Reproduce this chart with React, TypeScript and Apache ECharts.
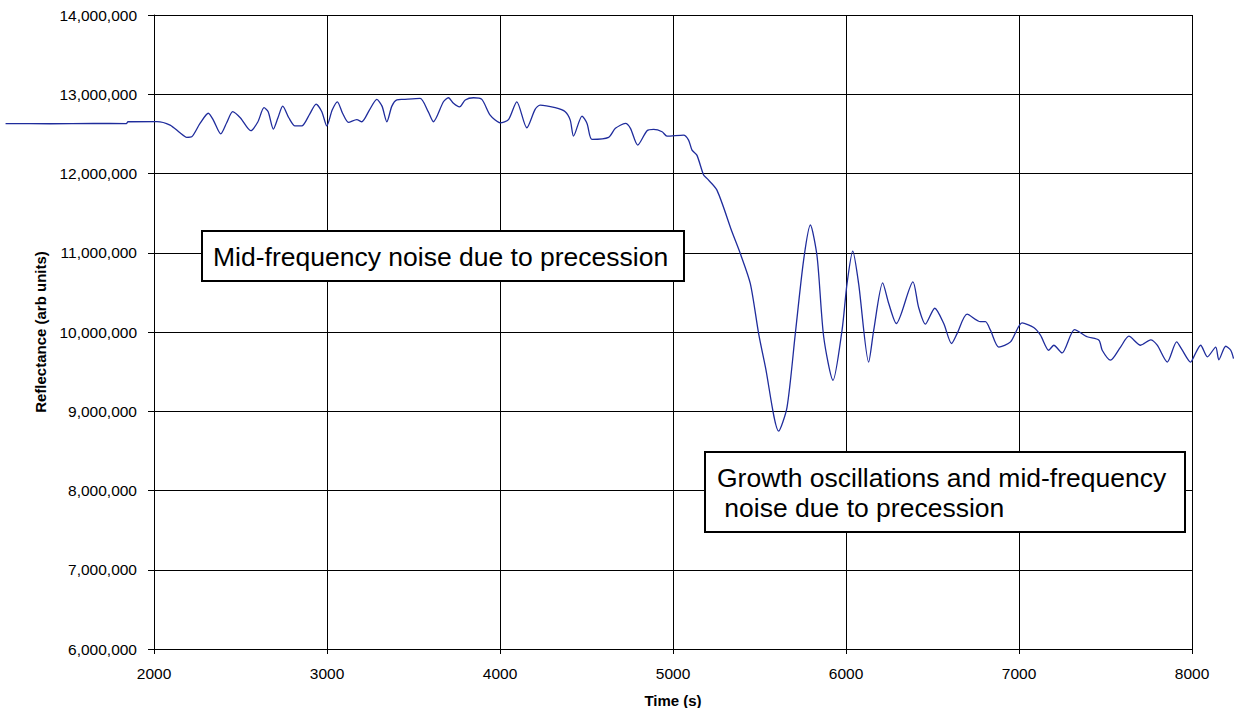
import React, { useEffect, useRef } from "react";
import * as echarts from "echarts";

// Time (s)
const times: number[] = [
  1142, 1400, 1650, 1840, 1850, 2017, 2093, 2150, 2189, 2218, 2266, 2314, 2343, 2386, 2420,
  2455, 2500, 2559, 2600, 2636, 2660, 2690, 2716, 2744, 2780, 2815, 2854, 2900, 2937, 2970,
  2999, 3030, 3060, 3090, 3124, 3172, 3201, 3245, 3288, 3318, 3346, 3375, 3404, 3440, 3538,
  3585, 3615, 3673, 3702, 3731, 3766, 3799, 3847, 3895, 3943, 4001, 4049, 4097, 4155, 4203,
  4232, 4319, 4377, 4406, 4425, 4474, 4503, 4532, 4628, 4667, 4725, 4754, 4796, 4850, 4888,
  4937, 4965, 5061, 5090, 5110, 5138, 5177, 5196, 5254, 5341, 5389, 5447, 5495, 5534, 5611,
  5659, 5707, 5755, 5794, 5833, 5871, 5925, 5977, 6006, 6039, 6073, 6131, 6160, 6212, 6247,
  6291, 6387, 6419, 6459, 6513, 6565, 6610, 6642, 6700, 6777, 6806, 6835, 6883, 6951, 7018,
  7085, 7124, 7172, 7201, 7249, 7321, 7394, 7462, 7481, 7529, 7587, 7635, 7703, 7761, 7799,
  7857, 7911, 7944, 7992, 8011, 8050, 8089, 8137, 8155, 8195, 8224, 8240,
];

// Reflectance (millions, arb units)
const reflectanceM: number[] = [
  12.630, 12.628, 12.632, 12.630, 12.653, 12.655, 12.611, 12.514, 12.456, 12.463, 12.632, 12.760, 12.674, 12.500, 12.640,
  12.780, 12.700, 12.540, 12.650, 12.830, 12.780, 12.560, 12.700, 12.850, 12.700, 12.600, 12.600, 12.750, 12.876, 12.780,
  12.600, 12.800, 12.905, 12.760, 12.645, 12.680, 12.653, 12.800, 12.935, 12.850, 12.653, 12.850, 12.930, 12.935, 12.948,
  12.780, 12.653, 12.905, 12.956, 12.885, 12.840, 12.927, 12.956, 12.935, 12.737, 12.640, 12.680, 12.905, 12.577, 12.810,
  12.864, 12.830, 12.780, 12.674, 12.472, 12.725, 12.632, 12.430, 12.456, 12.570, 12.632, 12.570, 12.359, 12.540, 12.557,
  12.527, 12.472, 12.485, 12.422, 12.295, 12.232, 11.980, 11.938, 11.790, 11.264, 10.990, 10.610, 9.980, 9.560, 8.750,
  9.050, 9.980, 10.907, 11.350, 10.950, 9.940, 9.390, 10.020, 10.610, 11.020, 10.610, 9.620, 10.020, 10.620, 10.360,
  10.107, 10.633, 10.317, 10.100, 10.300, 10.107, 9.855, 9.980, 10.225, 10.130, 10.130, 10.023, 9.810, 9.875, 10.115,
  10.057, 9.960, 9.770, 9.833, 9.736, 10.030, 9.940, 9.897, 9.770, 9.644, 9.810, 9.947, 9.833, 9.900, 9.833,
  9.620, 9.875, 9.770, 9.620, 9.690, 9.833, 9.686, 9.810, 9.650, 9.820, 9.770, 9.665,
];

const xTicks: number[] = [2000, 3000, 4000, 5000, 6000, 7000, 8000];
const yTicks: number[] = [6000000, 7000000, 8000000, 9000000, 10000000, 11000000, 12000000, 13000000, 14000000];

const note1 = "Mid-frequency noise due to precession";
const note2 = "Growth oscillations and mid-frequency\n noise due to precession";

const FONT = 'Arial, "Liberation Sans", sans-serif';

// layout
const W = 1234;
const H = 708;
const PLOT_LEFT = 154;
const PLOT_RIGHT = 1192;
const PLOT_TOP = 15;
const PLOT_BOTTOM = 59;
// the trace runs past both ends of the axis, as in the original
const TRACE_MIN = 1120;
const TRACE_MAX = 8240;

export default function App() {
  const ref = useRef<HTMLDivElement>(null);
  useEffect(() => {
    if (!ref.current) return;
    const chart = echarts.init(ref.current, undefined, { renderer: "svg" });
    const data = times.map((t, i) => [t, reflectanceM[i] * 1e6]);
    const xMin = xTicks[0];
    const xMax = xTicks[xTicks.length - 1];
    const pxPerUnit = (PLOT_RIGHT - PLOT_LEFT) / (xMax - xMin);
    const traceLeft = PLOT_LEFT - (xMin - TRACE_MIN) * pxPerUnit;
    const traceRight = W - (PLOT_LEFT + (TRACE_MAX - xMin) * pxPerUnit);

    chart.setOption({
      animation: false,
      backgroundColor: "#ffffff",
      grid: [
        {
          left: PLOT_LEFT, right: W - PLOT_RIGHT, top: PLOT_TOP, bottom: PLOT_BOTTOM,
          containLabel: false, outerBoundsMode: "none",
        },
        {
          left: traceLeft, right: traceRight, top: PLOT_TOP, bottom: PLOT_BOTTOM,
          containLabel: false, outerBoundsMode: "none",
        },
      ],
      xAxis: [
        {
          type: "value",
          gridIndex: 0,
          min: xMin,
          max: xMax,
          interval: 1000,
          name: "Time (s)",
          nameLocation: "middle",
          nameGap: 44,
          nameTextStyle: { fontFamily: FONT, fontWeight: "bold", fontSize: 15, color: "#000" },
          axisLine: { show: true, onZero: false, lineStyle: { color: "#000", width: 1 } },
          axisTick: { show: true, inside: false, length: 5, lineStyle: { color: "#000" } },
          axisLabel: { fontFamily: FONT, fontSize: 15.5, color: "#000", margin: 16, formatter: (v: number) => String(v) },
          splitLine: { show: true, lineStyle: { color: "#000", width: 1 } },
        },
        {
          type: "value",
          gridIndex: 1,
          min: TRACE_MIN,
          max: TRACE_MAX,
          show: false,
          splitLine: { show: false },
        },
      ],
      yAxis: [
        {
          type: "value",
          gridIndex: 0,
          min: yTicks[0],
          max: yTicks[yTicks.length - 1],
          interval: 1000000,
          name: "Reflectance (arb units)",
          nameLocation: "middle",
          nameGap: 106,
          nameTextStyle: { fontFamily: FONT, fontWeight: "bold", fontSize: 15, color: "#000" },
          axisLine: { show: true, lineStyle: { color: "#000", width: 1 } },
          axisTick: { show: true, inside: false, length: 6, lineStyle: { color: "#000" } },
          axisLabel: {
            fontFamily: FONT,
            fontSize: 15.5,
            color: "#000",
            margin: 17,
            formatter: (v: number) => v.toLocaleString("en-US"),
          },
          splitLine: { show: true, lineStyle: { color: "#000", width: 1 } },
        },
        {
          type: "value",
          gridIndex: 1,
          min: yTicks[0],
          max: yTicks[yTicks.length - 1],
          show: false,
          splitLine: { show: false },
        },
      ],
      series: [
        {
          type: "line",
          xAxisIndex: 1,
          yAxisIndex: 1,
          data,
          clip: false,
          showSymbol: false,
          symbol: "none",
          smooth: 0.25,
          lineStyle: { color: "#1F2C9C", width: 1.3 },
          z: 3,
        },
      ],
      graphic: [
        {
          type: "rect",
          z: 100,
          shape: { x: 202, y: 231, width: 482, height: 50 },
          style: { fill: "#fff", stroke: "#000", lineWidth: 2 },
        },
        {
          type: "text",
          z: 101,
          x: 213,
          y: 257,
          style: {
            text: note1,
            font: `26.5px ${FONT}`,
            fill: "#000",
            verticalAlign: "middle",
          },
        },
        {
          type: "rect",
          z: 100,
          shape: { x: 705, y: 452, width: 480, height: 80 },
          style: { fill: "#fff", stroke: "#000", lineWidth: 2 },
        },
        {
          type: "text",
          z: 101,
          x: 717,
          y: 493,
          style: {
            text: note2,
            font: `26.5px ${FONT}`,
            lineHeight: 30,
            fill: "#000",
            verticalAlign: "middle",
          },
        },
      ],
    });
    return () => chart.dispose();
  }, []);
  return (
    <div
      ref={ref}
      style={{ position: "fixed", left: 0, top: 0, width: W, height: H }}
    />
  );
}
